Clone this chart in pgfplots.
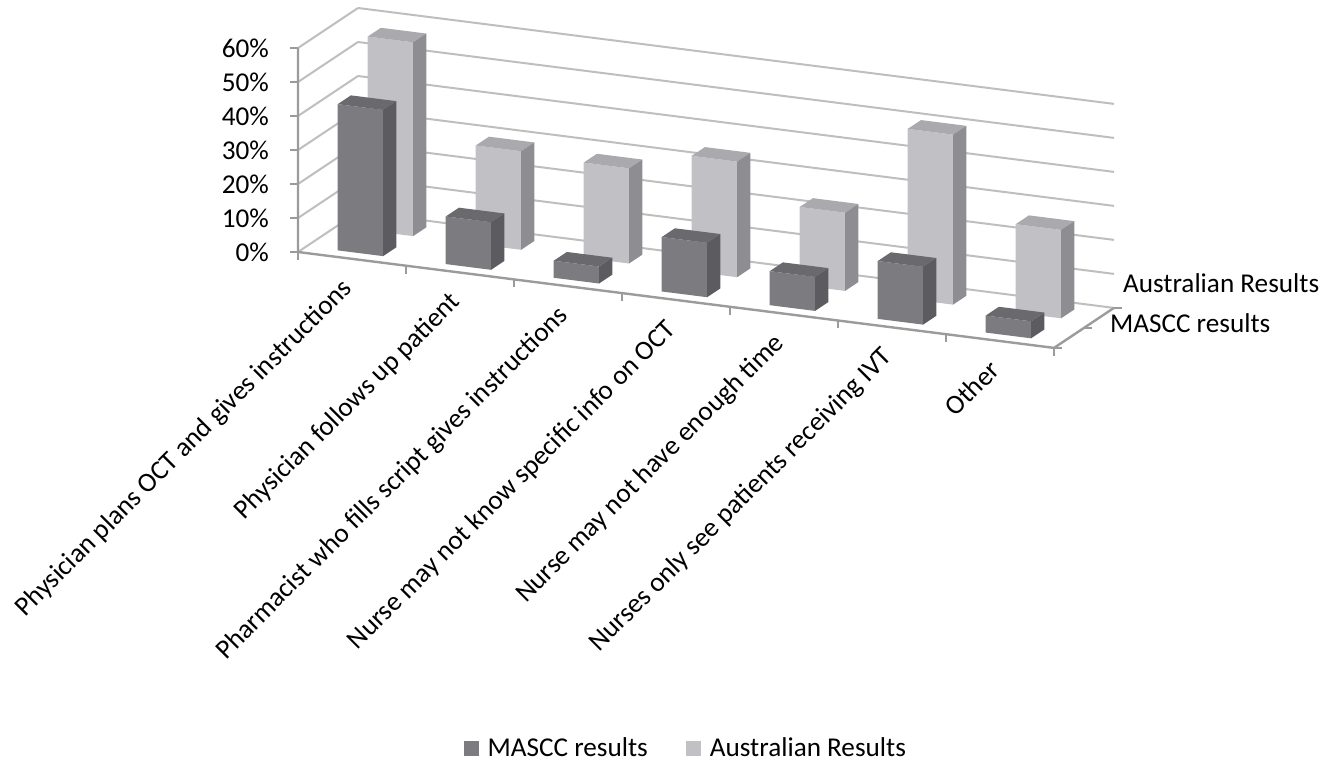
\documentclass[border=0pt]{standalone}
\usepackage{fontspec}
\setmainfont{Carlito}
\usepackage{pgfplots}
\usepackage{pgfplotstable}
\pgfplotsset{compat=1.18}
\usetikzlibrary{calc}

% bar shading: front, top and side faces
\definecolor{mfront}{RGB}{124,124,128}
\definecolor{mtop}{RGB}{106,106,110}
\definecolor{mside}{RGB}{92,92,96}
\definecolor{afront}{RGB}{193,193,197}
\definecolor{atop}{RGB}{170,170,174}
\definecolor{aside}{RGB}{142,142,146}
\definecolor{gridgray}{RGB}{190,190,190}
\definecolor{axisgray}{RGB}{155,155,155}

% share of responses (%) per category
\pgfplotstableread{
idx mascc aus
0 43 57
1 14 29
2 5 28
3 16 34
4 10 23
5 17 50
6 5 26
}\ocdata

% one 3-D column: #1 row, #2 column, #3 depth position, #4 colour prefix
\newcommand\cuboid[4]{%
  \pgfplotstablegetelem{#1}{#2}\of\ocdata
  \edef\bh{\pgfplotsretval}%
  \pgfmathsetmacro\xa{#1-0.21}\pgfmathsetmacro\xb{#1+0.21}%
  \pgfmathsetmacro\ya{#3-0.22}\pgfmathsetmacro\yb{#3+0.22}%
  \edef\next{%
    \noexpand\addplot3[draw=none, fill=#4front, forget plot] coordinates
      {(\xa,\ya,0) (\xb,\ya,0) (\xb,\ya,\bh) (\xa,\ya,\bh)};
    \noexpand\addplot3[draw=none, fill=#4top, forget plot] coordinates
      {(\xa,\ya,\bh) (\xb,\ya,\bh) (\xb,\yb,\bh) (\xa,\yb,\bh)};
    \noexpand\addplot3[draw=none, fill=#4side, forget plot] coordinates
      {(\xb,\ya,0) (\xb,\yb,0) (\xb,\yb,\bh) (\xb,\ya,\bh)};
  }\next
}

\begin{document}
\begin{tikzpicture}
\begin{axis}[
  x={(54pt,-6.85pt)}, y={(15pt,10pt)}, z={(0pt,1.7pt)},
  xmin=-0.5, xmax=6.5, ymin=-0.5, ymax=1.5, zmin=0, zmax=60,
  clip=false,
  axis line style={draw=none},
  major tick length=0pt, minor tick length=0pt,
  xtick={0,...,6},
  xticklabels={Physician plans OCT and gives instructions,
    Physician follows up patient,
    Pharmacist who fills script gives instructions,
    Nurse may not know specific info on OCT,
    Nurse may not have enough time,
    Nurses only see patients receiving IVT,
    Other},
  ytick={0}, yticklabels={MASCC results},
  extra y ticks={1}, extra y tick labels={Australian Results},
  extra y tick style={yticklabel style={xshift=-8.5pt, yshift=10pt}},
  ztick={0,10,...,60},
  zticklabels={0\%,10\%,20\%,30\%,40\%,50\%,60\%},
  xmajorgrids=false, ymajorgrids=false, zmajorgrids=true,
  grid style={gridgray, line width=1pt},
  tick label style={font=\fontsize{13.6}{16}\selectfont, text=black},
  xticklabel style={anchor=north east, inner sep=0pt,
    xshift=-6pt, yshift=-8.5pt, rotate=45},
  yticklabel style={anchor=west, xshift=17pt, yshift=7.5pt},
  zticklabel style={anchor=east, xshift=-11pt},
  legend columns=2,
  legend image code/.code={\fill[#1, draw=none] (0pt,-3.75pt) rectangle (7.5pt,3.75pt);},
  legend style={draw=none, fill=none, font=\fontsize{13.6}{16}\selectfont,
    at={(axis cs:3.1,-0.5,0)}, anchor=center, yshift=-223.5pt,
    /tikz/every odd column/.append style={column sep=2.5pt},
    /tikz/every even column/.append style={column sep=17pt}},
]
\coordinate (F) at (axis cs:-0.5,-0.5,0);

% axis lines and tick marks
\draw[axisgray, line width=1.2pt] (axis cs:-0.5,-0.5,60) -- (axis cs:-0.5,-0.5,0)
  -- (axis cs:6.5,-0.5,0) -- (axis cs:6.5,1.5,0);
\pgfplotsinvokeforeach{0,10,20,30,40,50,60}{
  \draw[axisgray, line width=1pt] (axis cs:-0.5,-0.5,#1) -- ++(-4pt,0pt);}
\pgfplotsinvokeforeach{-0.5,0.5,1.5,2.5,3.5,4.5,5.5,6.5}{
  \draw[axisgray, line width=1pt] (axis cs:#1,-0.5,0) -- ++(0pt,-4pt);}
\pgfplotsinvokeforeach{-0.5,0.5,1.5}{
  \draw[axisgray, line width=1pt] (axis cs:6.5,#1,0) -- ++(4pt,0pt);}

% back row first, then front row, left to right
\pgfplotsforeachungrouped \i in {0,...,6}{\cuboid{\i}{aus}{1}{a}}
\pgfplotsforeachungrouped \i in {0,...,6}{\cuboid{\i}{mascc}{0}{m}}

\addlegendimage{fill=mfront}
\addlegendentry{MASCC results}
\addlegendimage{fill=afront}
\addlegendentry{Australian Results}
\end{axis}
\pgfresetboundingbox
\path[use as bounding box] ($(F)+(-149pt,-256pt)$) rectangle ($(F)+(523pt,126pt)$);
\end{tikzpicture}
\end{document}
